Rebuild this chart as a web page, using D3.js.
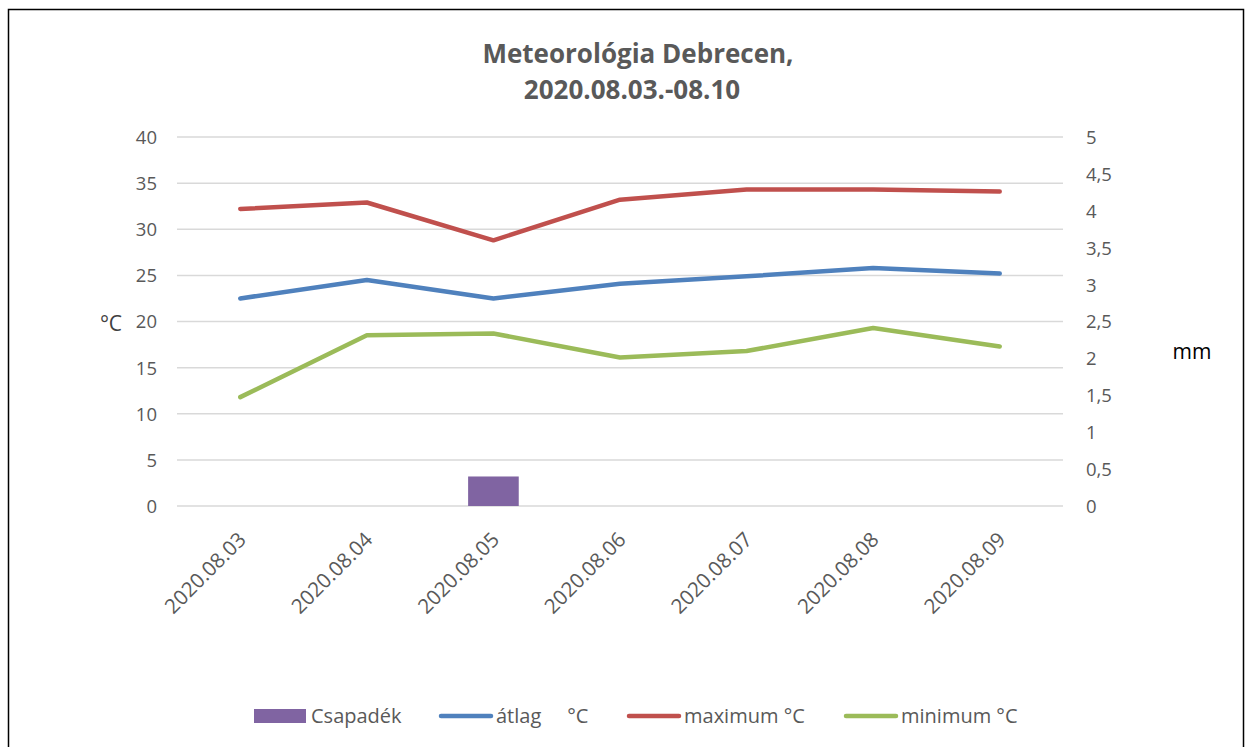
<!DOCTYPE html>
<html>
<head>
<meta charset="utf-8">
<script src="https://cdn.jsdelivr.net/npm/d3@7"></script>
<style>
html,body{margin:0;padding:0;background:#fff;}
text{font-family:"Open Sans","Noto Sans",sans-serif;}
</style>
</head>
<body>
<svg id="chart" width="1252" height="747"></svg>
<script>
const categories = ["2020.08.03","2020.08.04","2020.08.05","2020.08.06","2020.08.07","2020.08.08","2020.08.09"];
const precipitation = [0, 0, 0.4, 0, 0, 0, 0];        // Csapadék (mm), right axis
const avgTemp = [22.5, 24.5, 22.5, 24.1, 24.9, 25.8, 25.2]; // átlag °C
const maxTemp = [32.2, 32.9, 28.8, 33.2, 34.3, 34.3, 34.1]; // maximum °C
const minTemp = [11.8, 18.5, 18.7, 16.1, 16.8, 19.3, 17.3]; // minimum °C
const leftTicks = [0,5,10,15,20,25,30,35,40];
const rightTicks = [0,0.5,1,1.5,2,2.5,3,3.5,4,4.5,5];
const titleLines = ["Meteorológia Debrecen,", "2020.08.03.-08.10"];
const seriesNames = ["Csapadék", "átlag     °C", "maximum °C", "minimum °C"];
const colors = ["#8064a2", "#4f81bd", "#c0504d", "#9bbb59"];

const svg = d3.select("#chart");
const plot = {left: 177, right: 1063, top: 137, bottom: 506};

// outer border
svg.append("rect").attr("x", 8.5).attr("y", 9.5).attr("width", 1235).attr("height", 760)
  .attr("fill", "#fff").attr("stroke", "#000").attr("stroke-width", 1.5);

const x = d3.scaleBand().domain(categories).range([plot.left, plot.right]).padding(0);
const yL = d3.scaleLinear().domain([0, 40]).range([plot.bottom, plot.top]);
const yR = d3.scaleLinear().domain([0, 5]).range([plot.bottom, plot.top]);

// gridlines
svg.append("g").selectAll("line").data(leftTicks).join("line")
  .attr("x1", plot.left).attr("x2", plot.right)
  .attr("y1", d => yL(d)).attr("y2", d => yL(d))
  .attr("stroke", "#d9d9d9").attr("stroke-width", 1.5);

// left axis
const axL = d3.axisLeft(yL).tickValues(leftTicks).tickSize(0).tickPadding(0).tickFormat(d3.format("d"));
const gL = svg.append("g").attr("transform", `translate(${plot.left - 20},0)`).call(axL);
gL.select(".domain").remove();
gL.selectAll("text").attr("font-size", 18.5).attr("fill", "#595959")
  .attr("font-family", "Open Sans").attr("dy", "0.35em");

// right axis
const fmtR = d => String(d).replace(".", ",");
const axR = d3.axisRight(yR).tickValues(rightTicks).tickSize(0).tickPadding(0).tickFormat(fmtR);
const gR = svg.append("g").attr("transform", `translate(${plot.right + 23},0)`).call(axR);
gR.select(".domain").remove();
gR.selectAll("text").attr("font-size", 18.5).attr("fill", "#595959")
  .attr("font-family", "Open Sans").attr("dy", "0.35em");

// x axis labels
svg.append("g").selectAll("text").data(categories).join("text")
  .attr("transform", d => `translate(${x(d) + x.bandwidth()/2 + 7},${plot.bottom + 35}) rotate(-45)`)
  .attr("text-anchor", "end").attr("font-size", 20.5).attr("fill", "#595959")
  .text(d => d);

// axis titles
svg.append("text").attr("x", 111).attr("y", 331).attr("text-anchor", "middle")
  .attr("font-size", 21).attr("fill", "#404040").text("°C");
svg.append("text").attr("x", 1192).attr("y", 359).attr("text-anchor", "middle")
  .attr("font-size", 21).attr("fill", "#000").text("mm");

// bars
const barW = x.bandwidth() * 0.4;
svg.append("g").selectAll("rect").data(categories.map((c, i) => ({c, v: precipitation[i]})).filter(d => d.v > 0))
  .join("rect")
  .attr("x", d => x(d.c) + x.bandwidth()/2 - barW/2)
  .attr("width", barW)
  .attr("y", d => yR(d.v))
  .attr("height", d => yR(0) - yR(d.v))
  .attr("fill", colors[0]);

// lines
const lineGen = d3.line().x((d, i) => x(categories[i]) + x.bandwidth()/2).y(d => yL(d));
[[avgTemp, colors[1]], [maxTemp, colors[2]], [minTemp, colors[3]]].forEach(([data, col]) => {
  svg.append("path").datum(data).attr("d", lineGen)
    .attr("fill", "none").attr("stroke", col).attr("stroke-width", 4.5)
    .attr("stroke-linecap", "round").attr("stroke-linejoin", "round");
});

// title
svg.append("text").attr("x", 638).attr("y", 63).attr("text-anchor", "middle")
  .attr("font-size", 26).attr("font-weight", "bold").attr("fill", "#595959").text(titleLines[0]);
svg.append("text").attr("x", 632).attr("y", 99).attr("text-anchor", "middle")
  .attr("font-size", 26).attr("font-weight", "bold").attr("fill", "#595959").text(titleLines[1]);

// legend
const legX = [254, 439, 627, 844];
const legY = 716;
const gLeg = svg.append("g");
seriesNames.forEach((name, i) => {
  if (i === 0) {
    gLeg.append("rect").attr("x", legX[i]).attr("y", legY - 7).attr("width", 52).attr("height", 14).attr("fill", colors[i]);
  } else {
    gLeg.append("line").attr("x1", legX[i] + 2).attr("x2", legX[i] + 52).attr("y1", legY).attr("y2", legY)
      .attr("stroke", colors[i]).attr("stroke-width", 4.5).attr("stroke-linecap", "round");
  }
  gLeg.append("text").attr("x", legX[i] + 57).attr("y", legY).attr("dy", "0.35em")
    .attr("font-size", 20).attr("fill", "#595959").style("white-space", "pre").text(name);
});
</script>
</body>
</html>
